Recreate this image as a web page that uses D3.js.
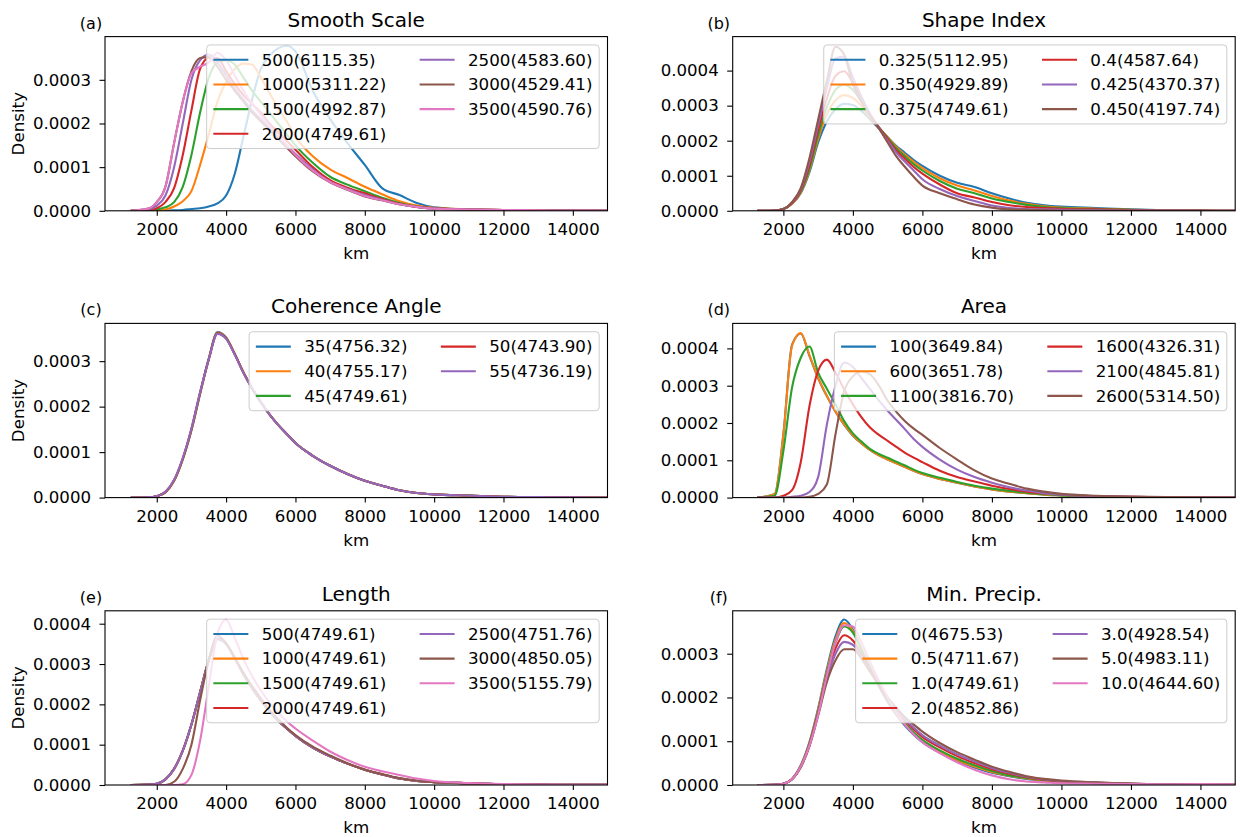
<!DOCTYPE html>
<html><head><meta charset="utf-8">
<script src="https://cdn.jsdelivr.net/npm/d3@7"></script>
<style>body{margin:0;background:#fff}svg{display:block}text{font-family:"DejaVu Sans",sans-serif;fill:#000}</style>
</head><body>
<script>
// sample positions (km) of every density curve
const xKm = [1250,1750,2000,2250,2500,2750,3000,3250,3500,3750,4000,4250,4500,4750,5000,5250,5500,5750,6000,6500,7000,7500,8000,8500,9000,9500,10000,11000,12000,13000,14000,15000];
const xTicks = [2000,4000,6000,8000,10000,12000,14000];
const yTicks = [0,0.0001,0.0002,0.0003,0.0004];
const xMaxKm = 15000;

const panelTitles = ["Smooth Scale","Shape Index","Coherence Angle","Area","Length","Min. Precip."];
const panelLetters = ["(a)","(b)","(c)","(d)","(e)","(f)"];
const panelYMax = [0.000399,0.000497,0.000383,0.000467,0.000432,0.000398];
const panelXMin = [507,542,507,542,507,542];

// legend labels
const smoothLabels = ["500(6115.35)","1000(5311.22)","1500(4992.87)","2000(4749.61)","2500(4583.60)","3000(4529.41)","3500(4590.76)"];
const shapeLabels = ["0.325(5112.95)","0.350(4929.89)","0.375(4749.61)","0.4(4587.64)","0.425(4370.37)","0.450(4197.74)"];
const angleLabels = ["35(4756.32)","40(4755.17)","45(4749.61)","50(4743.90)","55(4736.19)"];
const areaLabels = ["100(3649.84)","600(3651.78)","1100(3816.70)","1600(4326.31)","2100(4845.81)","2600(5314.50)"];
const lengthLabels = ["500(4749.61)","1000(4749.61)","1500(4749.61)","2000(4749.61)","2500(4751.76)","3000(4850.05)","3500(5155.79)"];
const precipLabels = ["0(4675.53)","0.5(4711.67)","1.0(4749.61)","2.0(4852.86)","3.0(4928.54)","5.0(4983.11)","10.0(4644.60)"];

// densities, in units of 1e-4, at xKm
const smoothDensity = [
 [0,0,0,0.005,0.01,0.02,0.04,0.06,0.1,0.17,0.35,0.85,1.7,2.55,3.25,3.55,3.72,3.78,3.65,2.75,2.1,1.55,1.05,0.52,0.36,0.18,0.08,0.03,0.015,0.008,0.004,0.002],
 [0,0,0.01,0.03,0.1,0.22,0.45,1.05,1.75,2.5,2.95,3.25,3.37,3.35,3.05,2.7,2.35,2.05,1.7,1.25,0.95,0.75,0.55,0.38,0.22,0.12,0.07,0.035,0.015,0.008,0.004,0.002],
 [0,0.01,0.03,0.08,0.2,0.55,1.28,2.25,3.05,3.4,3.45,3.35,3.05,2.75,2.5,2.25,2.0,1.75,1.5,1.1,0.78,0.6,0.45,0.3,0.18,0.1,0.06,0.03,0.015,0.007,0.004,0.002],
 [0,0.01,0.06,0.2,0.52,1.28,2.3,3.25,3.5,3.5,3.2,2.9,2.65,2.45,2.25,2.0,1.8,1.6,1.4,1.0,0.7,0.53,0.4,0.27,0.16,0.09,0.06,0.03,0.015,0.007,0.004,0.002],
 [0,0.03,0.12,0.35,1.0,2.0,3.0,3.45,3.58,3.4,3.1,2.8,2.55,2.3,2.1,1.9,1.7,1.5,1.3,0.95,0.66,0.5,0.36,0.25,0.15,0.09,0.05,0.03,0.015,0.007,0.004,0.002],
 [0,0.05,0.2,0.55,1.55,2.5,3.2,3.5,3.52,3.3,3.0,2.75,2.5,2.25,2.05,1.85,1.65,1.45,1.25,0.9,0.65,0.48,0.33,0.24,0.15,0.09,0.05,0.03,0.015,0.007,0.004,0.002],
 [0,0.05,0.2,0.55,1.55,2.5,3.15,3.3,3.4,3.62,3.45,3.1,2.75,2.45,2.2,1.95,1.72,1.5,1.28,0.92,0.66,0.49,0.34,0.24,0.15,0.09,0.05,0.03,0.02,0.01,0.005,0.002]
];
const shapeDensity = [
 [0,0.01,0.05,0.2,0.5,1.1,1.95,2.55,2.9,3.05,3.02,2.85,2.6,2.35,2.1,1.85,1.65,1.45,1.28,1.0,0.8,0.68,0.5,0.35,0.23,0.16,0.12,0.08,0.04,0.015,0.005,0.002],
 [0,0.01,0.05,0.2,0.52,1.15,2.05,2.75,3.15,3.3,3.22,2.98,2.65,2.37,2.1,1.82,1.6,1.4,1.22,0.93,0.72,0.58,0.42,0.29,0.2,0.13,0.09,0.06,0.03,0.012,0.005,0.002],
 [0,0.01,0.05,0.22,0.55,1.2,2.15,2.95,3.45,3.6,3.45,3.1,2.7,2.38,2.08,1.78,1.55,1.33,1.15,0.85,0.63,0.5,0.35,0.25,0.17,0.11,0.08,0.05,0.025,0.01,0.005,0.002],
 [0,0.01,0.05,0.22,0.58,1.3,2.3,3.2,3.85,3.98,3.65,3.2,2.75,2.38,2.05,1.72,1.48,1.25,1.06,0.75,0.5,0.38,0.25,0.16,0.11,0.08,0.06,0.04,0.02,0.01,0.004,0.002],
 [0,0.01,0.05,0.24,0.62,1.4,2.45,3.5,4.35,4.4,3.8,3.25,2.75,2.36,2.0,1.66,1.4,1.15,0.9,0.62,0.42,0.28,0.15,0.08,0.05,0.04,0.03,0.02,0.01,0.005,0.003,0.001],
 [0,0.01,0.05,0.25,0.65,1.5,2.6,3.7,4.68,4.45,3.6,3.1,2.7,2.35,1.95,1.55,1.25,0.97,0.72,0.5,0.33,0.18,0.09,0.04,0.03,0.02,0.01,0.008,0.005,0.003,0.002,0.001]
];
const angleDensity = [
 [0,0.005,0.03,0.12,0.37,0.84,1.48,2.28,3.05,3.64,3.52,3.16,2.75,2.4,2.1,1.83,1.6,1.4,1.2,0.92,0.7,0.52,0.37,0.26,0.16,0.1,0.07,0.045,0.02,0.01,0.005,0.002],
 [0,0.005,0.03,0.12,0.37,0.84,1.48,2.29,3.05,3.63,3.51,3.16,2.75,2.4,2.1,1.83,1.6,1.4,1.2,0.92,0.7,0.52,0.37,0.26,0.16,0.1,0.07,0.045,0.02,0.01,0.005,0.002],
 [0,0.005,0.03,0.12,0.38,0.85,1.5,2.3,3.05,3.62,3.5,3.15,2.75,2.4,2.1,1.83,1.6,1.4,1.2,0.92,0.7,0.52,0.37,0.26,0.16,0.1,0.07,0.045,0.02,0.01,0.005,0.002],
 [0,0.005,0.03,0.12,0.38,0.86,1.51,2.31,3.04,3.61,3.5,3.15,2.75,2.4,2.1,1.83,1.6,1.4,1.2,0.92,0.7,0.52,0.37,0.26,0.16,0.1,0.07,0.045,0.02,0.01,0.005,0.002],
 [0,0.005,0.03,0.13,0.39,0.87,1.52,2.32,3.04,3.6,3.49,3.14,2.74,2.4,2.1,1.83,1.6,1.4,1.2,0.92,0.7,0.52,0.37,0.26,0.16,0.1,0.07,0.045,0.02,0.01,0.005,0.002]
];
const areaDensity = [
 [0,0.1,1.7,4.1,4.4,3.8,3.2,2.72,2.3,1.95,1.66,1.45,1.27,1.13,1.02,0.92,0.82,0.72,0.63,0.5,0.4,0.3,0.22,0.16,0.12,0.08,0.06,0.03,0.015,0.008,0.004,0.002],
 [0,0.1,1.68,4.08,4.41,3.82,3.21,2.73,2.31,1.96,1.67,1.45,1.27,1.13,1.02,0.92,0.82,0.72,0.63,0.5,0.4,0.3,0.22,0.16,0.12,0.08,0.06,0.03,0.015,0.008,0.004,0.002],
 [0,0.05,1.25,2.95,3.75,4.05,3.35,2.92,2.5,2.05,1.72,1.5,1.3,1.17,1.07,0.96,0.86,0.75,0.66,0.53,0.42,0.32,0.24,0.18,0.13,0.09,0.06,0.03,0.015,0.008,0.004,0.002],
 [0,0,0.05,0.2,0.95,2.45,3.4,3.7,3.35,2.9,2.5,2.15,1.87,1.68,1.52,1.36,1.2,1.07,0.95,0.72,0.55,0.43,0.32,0.23,0.16,0.11,0.08,0.04,0.02,0.01,0.005,0.002],
 [0,0,0,0.02,0.05,0.15,0.55,1.95,3.0,3.62,3.5,3.2,2.9,2.6,2.33,2.08,1.83,1.57,1.36,1.02,0.75,0.55,0.4,0.28,0.19,0.12,0.08,0.04,0.02,0.01,0.005,0.002],
 [0,0,0,0,0,0.02,0.1,0.35,1.7,2.85,3.25,3.38,3.3,3.0,2.6,2.3,2.05,1.85,1.68,1.33,1.02,0.73,0.51,0.37,0.24,0.16,0.1,0.05,0.025,0.012,0.005,0.002]
];
const lengthShort = [0,0.01,0.03,0.14,0.4,0.85,1.5,2.3,3.1,3.62,3.5,3.15,2.75,2.4,2.1,1.83,1.6,1.4,1.22,0.93,0.71,0.53,0.38,0.26,0.16,0.1,0.07,0.045,0.02,0.01,0.005,0.002];
const lengthDensity = [
 lengthShort, lengthShort, lengthShort, lengthShort,
 [0,0.01,0.03,0.14,0.4,0.85,1.5,2.3,3.1,3.62,3.49,3.15,2.75,2.4,2.1,1.83,1.6,1.4,1.22,0.93,0.71,0.53,0.38,0.26,0.16,0.1,0.07,0.045,0.02,0.01,0.005,0.002],
 [0,0,0,0,0.08,0.4,1.0,2.1,3.1,3.7,3.52,3.15,2.78,2.45,2.15,1.87,1.63,1.42,1.24,0.95,0.73,0.54,0.38,0.27,0.17,0.11,0.07,0.04,0.02,0.01,0.005,0.002],
 [0,0,0,0,0,0.02,0.25,1.1,2.45,3.75,4.1,3.65,3.12,2.7,2.35,2.05,1.8,1.58,1.4,1.1,0.83,0.62,0.45,0.34,0.25,0.16,0.1,0.05,0.025,0.012,0.006,0.002]
];
const precipDensity = [
 [0,0.005,0.03,0.14,0.45,0.98,1.75,2.65,3.4,3.78,3.55,3.1,2.65,2.25,1.9,1.6,1.35,1.15,0.98,0.74,0.55,0.4,0.28,0.2,0.14,0.1,0.07,0.045,0.025,0.012,0.006,0.002],
 [0,0.005,0.03,0.14,0.44,0.96,1.72,2.6,3.32,3.7,3.52,3.1,2.66,2.27,1.92,1.62,1.38,1.17,1.0,0.76,0.57,0.42,0.3,0.21,0.15,0.1,0.07,0.045,0.025,0.012,0.006,0.002],
 [0,0.005,0.03,0.13,0.43,0.94,1.68,2.55,3.25,3.62,3.48,3.08,2.66,2.28,1.94,1.65,1.41,1.2,1.03,0.79,0.6,0.45,0.32,0.22,0.16,0.11,0.08,0.05,0.028,0.013,0.006,0.002],
 [0,0.005,0.03,0.13,0.42,0.92,1.65,2.5,3.12,3.42,3.3,2.98,2.62,2.28,1.97,1.7,1.47,1.27,1.1,0.86,0.66,0.5,0.36,0.26,0.18,0.12,0.08,0.05,0.03,0.014,0.007,0.003],
 [0,0.005,0.03,0.13,0.41,0.9,1.62,2.42,3.0,3.27,3.2,2.93,2.6,2.28,1.98,1.72,1.5,1.31,1.14,0.9,0.7,0.54,0.39,0.28,0.19,0.13,0.09,0.055,0.03,0.015,0.007,0.003],
 [0,0.005,0.03,0.13,0.4,0.88,1.58,2.35,2.85,3.1,3.1,2.88,2.58,2.28,2.0,1.76,1.55,1.38,1.22,0.96,0.75,0.58,0.42,0.3,0.2,0.14,0.1,0.06,0.03,0.015,0.008,0.003],
 [0,0.005,0.03,0.13,0.42,0.9,1.6,2.5,3.25,3.65,3.62,3.25,2.8,2.38,2.0,1.66,1.38,1.16,0.98,0.73,0.52,0.35,0.22,0.13,0.08,0.06,0.04,0.03,0.02,0.015,0.02,0.01]
];

const panelLegends = [smoothLabels, shapeLabels, angleLabels, areaLabels, lengthLabels, precipLabels];
const panelDensity = [smoothDensity, shapeDensity, angleDensity, areaDensity, lengthDensity, precipDensity];
const colors = ["#1f77b4","#ff7f0e","#2ca02c","#d62728","#9467bd","#8c564b","#e377c2"];

const FS = 16.7;
const svg = d3.select("body").append("svg").attr("width",1240).attr("height",837);
svg.append("rect").attr("width",1240).attr("height",837).attr("fill","#fff");
const colX = [105, 732.7], axW = 502.5, rowY = [36.6, 323.4, 610.8], axH = 174.2;

panelTitles.forEach((title, i) => {
  const col = i % 2, row = Math.floor(i / 2);
  const g = svg.append("g").attr("transform", `translate(${colX[col]},${rowY[row]})`);
  const x = d3.scaleLinear().domain([panelXMin[i], xMaxKm]).range([0, axW]);
  const y = d3.scaleLinear().domain([0, panelYMax[i]]).range([axH, 0]);
  const cid = "clip" + i;
  g.append("clipPath").attr("id", cid).append("rect").attr("width", axW).attr("height", axH);
  const line = d3.line().x(d => x(d[0])).y(d => y(d[1])).curve(d3.curveMonotoneX);
  const lines = g.append("g").attr("clip-path", `url(#${cid})`);
  panelDensity[i].forEach((vals, k) => {
    lines.append("path").datum(vals.map((v, j) => [xKm[j], v * 1e-4]))
      .attr("d", line).attr("fill", "none").attr("stroke", colors[k])
      .attr("stroke-width", 2.1).attr("stroke-linejoin", "round");
  });
  const xa = g.append("g").attr("transform", `translate(0,${axH})`)
    .call(d3.axisBottom(x).tickValues(xTicks).tickFormat(d3.format("d")).tickSize(5).tickPadding(7.5));
  const ya = g.append("g")
    .call(d3.axisLeft(y).tickValues(yTicks.filter(t => t <= panelYMax[i])).tickFormat(d3.format(".4f")).tickSize(5.5).tickPadding(8.5));
  [xa, ya].forEach(a => {
    a.select(".domain").remove();
    a.selectAll("line").attr("stroke", "#000").attr("stroke-width", 1.1);
    a.selectAll("text").attr("font-size", 16.6).attr("font-family", "DejaVu Sans").attr("fill", "#000");
  });
  g.append("rect").attr("width", axW).attr("height", axH).attr("fill", "none")
    .attr("stroke", "#000").attr("stroke-width", 1.1);

  g.append("text").attr("x", axW / 2).attr("y", -10).attr("text-anchor", "middle")
    .attr("font-size", 20).text(title);
  g.append("text").attr("x", -14).attr("y", -8).attr("text-anchor", "middle")
    .attr("font-size", 16).text(panelLetters[i]);
  g.append("text").attr("x", axW / 2).attr("y", axH + 48.5).attr("text-anchor", "middle")
    .attr("font-size", FS).text("km");
  if (col === 0) {
    g.append("text").attr("transform", `translate(${24 - colX[0]},${axH / 2}) rotate(-90)`)
      .attr("text-anchor", "middle").attr("font-size", FS).text("Density");
  }

  // legend (upper right, 2 columns)
  const lab = panelLegends[i], n = lab.length, nrow = Math.ceil(n / 2);
  const bp = 0.4 * FS, hl = 35, htp = 0.8 * FS, cs = 2 * FS, rh = 16.3, ls = 0.5 * FS;
  const lg = g.append("g");
  const box = lg.append("rect");
  const items = lab.map((t, k) => ({ t, k, c: Math.floor(k / nrow), r: k % nrow }));
  const texts = items.map(it => lg.append("text").attr("font-size", FS).text(it.t));
  const colW = [0, 0];
  items.forEach((it, k) => { colW[it.c] = Math.max(colW[it.c], texts[k].node().getComputedTextLength()); });
  const W = 2 * bp + 2 * (hl + htp) + colW[0] + colW[1] + cs;
  const H = 2 * bp + nrow * rh + (nrow - 1) * ls;
  const L = axW - 0.5 * FS - W, T = 0.5 * FS;
  box.attr("x", L).attr("y", T).attr("width", W).attr("height", H).attr("rx", 3.3)
    .attr("fill", "#fff").attr("fill-opacity", 0.8).attr("stroke", "#cccccc").attr("stroke-width", 1);
  items.forEach((it, k) => {
    const cx = L + bp + (it.c === 1 ? hl + htp + colW[0] + cs : 0);
    const cy = T + bp + it.r * (rh + ls) + rh / 2;
    lg.append("line").attr("x1", cx).attr("x2", cx + hl).attr("y1", cy).attr("y2", cy)
      .attr("stroke", colors[k]).attr("stroke-width", 2.1);
    texts[k].attr("x", cx + hl + htp).attr("y", cy + 0.35 * FS);
  });
});
</script>
</body></html>
